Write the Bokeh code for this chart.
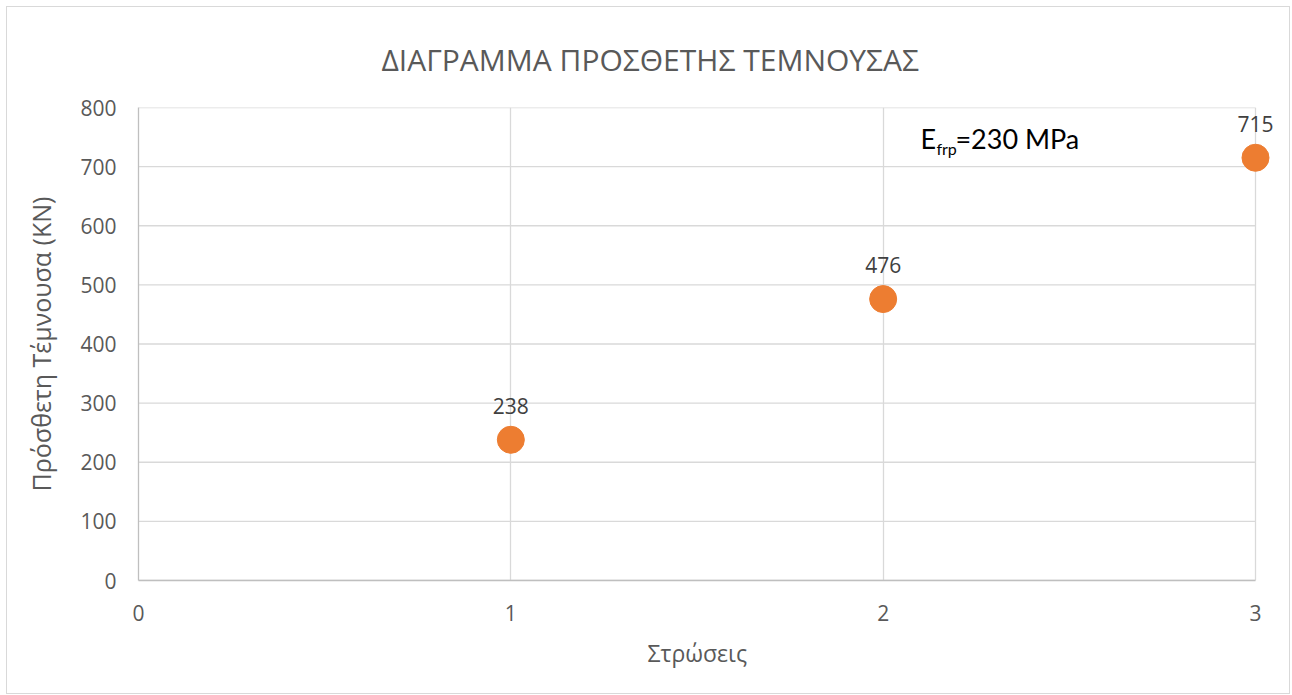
from bokeh.plotting import figure
from bokeh.models import Range1d, FixedTicker, Title
from bokeh.core.properties import value
from bokeh.embed import file_html
from bokeh.resources import INLINE

layers = [1, 2, 3]
shear = [238, 476, 715]
shear_labels = ["238", "476", "715"]
x_ticks = [0, 1, 2, 3]
y_ticks = [0, 100, 200, 300, 400, 500, 600, 700, 800]
x_min, x_max = 0, 3

title = "ΔΙΑΓΡΑΜΜΑ ΠΡΟΣΘΕΤΗΣ ΤΕΜΝΟΥΣΑΣ"
x_title = "Στρώσεις"
y_title = "Πρόσθετη Τέμνουσα (KN)"
note_main = "E"
note_sub = "frp"
note_rest = "=230 MPa"
note_x = 2.100
note_y = 748

FONT = "Open Sans"
GREY = "#595959"
GRID = "#d9d9d9"

p = figure(width=1284, height=688, output_backend="svg", toolbar_location=None,
           x_range=Range1d(0, 3.0967), y_range=Range1d(0, 800),
           min_border_left=131, min_border_right=0, min_border_top=100, min_border_bottom=115)
p.styles = {"border": "1px solid #d9d9d9", "box-sizing": "border-box",
            "margin-left": "6px", "margin-top": "6px"}
p.outline_line_color = None
p.background_fill_color = "white"
p.border_fill_color = "white"

p.add_layout(Title(text=title, align="left", offset=243, standoff=56,
                   text_font=FONT, text_font_size="30px", text_font_style="normal",
                   text_color=GREY), "above")
p.add_layout(Title(text=x_title, align="left", offset=509, standoff=23, text_font=FONT,
                   text_font_size="23px", text_font_style="normal", text_color=GREY), "below")

for ax in (p.xaxis[0], p.yaxis[0]):
    ax.axis_line_color = "#bfbfbf"
    ax.axis_line_width = 1.3
    ax.major_tick_line_color = None
    ax.minor_tick_line_color = None
    ax.major_label_text_font = FONT
    ax.major_label_text_font_size = "21px"
    ax.major_label_text_color = GREY
    ax.axis_label_text_font = FONT
    ax.axis_label_text_font_style = "normal"
    ax.axis_label_text_color = GREY

p.xaxis.bounds = (x_min, x_max)
p.xaxis.ticker = FixedTicker(ticks=x_ticks)
p.yaxis.ticker = FixedTicker(ticks=y_ticks)
p.xaxis.major_label_standoff = 18
p.yaxis.major_label_standoff = 16
p.yaxis.axis_label = y_title
p.yaxis.axis_label_text_font_size = "25px"
p.yaxis.axis_label_standoff = 19

p.xgrid.ticker = FixedTicker(ticks=x_ticks)
p.xgrid.grid_line_color = GRID
p.xgrid.grid_line_width = 1.3
p.ygrid.grid_line_color = None

# horizontal gridlines limited to the x extent of the axis
p.segment(x0=[x_min] * len(y_ticks), y0=y_ticks, x1=[x_max] * len(y_ticks), y1=y_ticks,
          line_color=GRID, line_width=1.3)

p.scatter(layers, shear, size=27, fill_color="#ED7D31", line_color="#ED7D31")
p.text(layers, shear, text=shear_labels, text_font=value(FONT), text_font_size="21px",
       text_color="#404040", text_align="center", text_baseline="middle", y_offset=-34)

p.text([note_x], [note_y], text=[note_main], text_font=value("Lato"), text_font_size="27px",
       text_color="black", text_align="left", text_baseline="alphabetic")
p.text([note_x], [note_y], text=[note_sub], text_font=value("Lato"), text_font_size="16px",
       text_color="black", text_align="left", text_baseline="alphabetic", x_offset=16, y_offset=10)
p.text([note_x], [note_y], text=[note_rest], text_font=value("Lato"), text_font_size="27px",
       text_color="black", text_align="left", text_baseline="alphabetic", x_offset=35)

open("out.html", "w").write(file_html(p, INLINE))
